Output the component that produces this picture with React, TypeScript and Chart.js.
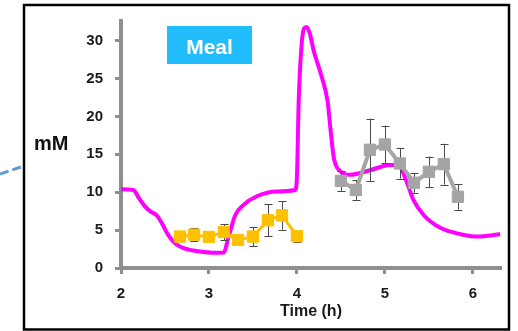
import React, { useEffect, useRef } from "react";
import { Chart, registerables } from "chart.js";

Chart.register(...registerables);

const xTicks = [2, 3, 4, 5, 6];
const yTicks = [0, 5, 10, 15, 20, 25, 30];

// model curve (magenta)
const modelTime = [
  2.0, 2.14, 2.2, 2.26, 2.33, 2.41, 2.47, 2.54, 2.62, 2.73, 2.88, 3.07, 3.17,
  3.22, 3.3, 3.39, 3.55, 3.77, 3.98, 4.0, 4.02, 4.05, 4.08, 4.11, 4.15, 4.19,
  4.28, 4.35, 4.38, 4.42, 4.49, 4.6, 4.83, 5.06, 5.15, 5.25, 5.32, 5.44, 5.63,
  5.86, 6.05, 6.31,
];
const modelValue = [
  10.4, 10.3, 9.3, 8.3, 7.5, 6.9, 5.8, 4.3, 3.2, 2.55, 2.2, 2.0, 2.05,
  4.0, 7.0, 8.3, 9.5, 10.1, 10.3, 12, 22, 29, 31.6, 31.8, 30.8, 28.7,
  25.3, 21.9, 18.5, 14.5, 12.8, 12.3, 12.9, 13.6, 13.6, 11.3, 9.1, 7.0, 5.3,
  4.46, 4.15, 4.45,
];

// orange series
const orangeTime = [2.67, 2.83, 3.0, 3.17, 3.33, 3.5, 3.67, 3.83, 4.0];
const orangeValue = [4.15, 4.4, 4.1, 4.75, 3.7, 4.15, 6.3, 6.95, 4.2];
const orangeErr = [0.4, 0.9, 0.4, 1.05, 0.4, 1.3, 2.1, 1.9, 0.8];

// gray series
const grayTime = [4.5, 4.67, 4.83, 5.0, 5.17, 5.33, 5.5, 5.67, 5.83];
const grayValue = [11.5, 10.3, 15.6, 16.3, 13.8, 11.25, 12.7, 13.7, 9.4];
const grayErr = [1.3, 1.3, 4.1, 2.5, 2.0, 1.3, 2.0, 2.7, 1.7];

const FONT = "'Liberation Sans', Arial, sans-serif";
const AXIS = "#8f8f8f";

export default function App() {
  const ref = useRef<HTMLCanvasElement>(null);

  useEffect(() => {
    const errorBars = {
      id: "errorBars",
      beforeDatasetDraw(chart: any, args: any) {
        const ds: any = chart.data.datasets[args.index];
        if (!ds.errors) return;
        const xs = chart.scales.x;
        const ys = chart.scales.y;
        const ctx = chart.ctx;
        ctx.save();
        ctx.strokeStyle = "#4a4a4a";
        ctx.lineWidth = 1;
        ds.data.forEach((p: any, i: number) => {
          const e = ds.errors[i];
          const px = Math.round(xs.getPixelForValue(p.x)) + 0.5;
          const y1 = ys.getPixelForValue(p.y + e);
          const y2 = ys.getPixelForValue(p.y - e);
          ctx.beginPath();
          ctx.moveTo(px, y1);
          ctx.lineTo(px, y2);
          ctx.moveTo(px - 4, Math.round(y1) + 0.5);
          ctx.lineTo(px + 4, Math.round(y1) + 0.5);
          ctx.moveTo(px - 4, Math.round(y2) + 0.5);
          ctx.lineTo(px + 4, Math.round(y2) + 0.5);
          ctx.stroke();
        });
        ctx.restore();
      },
    };

    const decor = {
      id: "decor",
      afterDraw(chart: any) {
        const ctx = chart.ctx;
        ctx.save();
        // frame
        ctx.strokeStyle = "#000";
        ctx.lineWidth = 2.5;
        ctx.strokeRect(24, 5, 485, 324.5);
        // dashed connector
        ctx.strokeStyle = "#5b9bd5";
        ctx.lineWidth = 3;
        ctx.setLineDash([9, 4]);
        ctx.beginPath();
        ctx.moveTo(0, 174);
        ctx.lineTo(22.5, 166.5);
        ctx.stroke();
        ctx.setLineDash([]);
        // mM label
        ctx.fillStyle = "#111";
        ctx.font = `bold 20px ${FONT}`;
        ctx.textAlign = "left";
        ctx.textBaseline = "alphabetic";
        ctx.fillText("mM", 34, 149.5);
        // Meal box
        ctx.fillStyle = "#22bdfd";
        ctx.fillRect(167, 26, 85, 38);
        ctx.fillStyle = "#fff";
        ctx.font = `bold 21px ${FONT}`;
        ctx.textAlign = "center";
        ctx.fillText("Meal", 209.5, 53.5);
        ctx.restore();
      },
    };

    const tickFont = { family: FONT, weight: "bold" as const, size: 15 };

    const chart = new Chart(ref.current!, {
      type: "line",
      data: {
        datasets: [
          {
            data: modelTime.map((t, i) => ({ x: t, y: modelValue[i] })),
            borderColor: "#ff00ff",
            borderWidth: 4,
            pointRadius: 0,
            cubicInterpolationMode: "monotone",
            fill: false,
            order: 2,
          },
          {
            data: orangeTime.map((t, i) => ({ x: t, y: orangeValue[i] })),
            errors: orangeErr,
            borderColor: "#ffc000",
            backgroundColor: "#ffc000",
            borderWidth: 3,
            pointStyle: "rect",
            pointRadius: 8,
            pointBorderWidth: 1,
            pointBorderColor: "#ffc000",
            pointBackgroundColor: "#ffc000",
            fill: false,
            order: 1,
          } as any,
          {
            data: grayTime.map((t, i) => ({ x: t, y: grayValue[i] })),
            errors: grayErr,
            borderColor: "#a5a5a5",
            backgroundColor: "#a5a5a5",
            borderWidth: 4,
            pointStyle: "rect",
            pointRadius: 8,
            pointBorderWidth: 1,
            pointBorderColor: "#a5a5a5",
            pointBackgroundColor: "#a5a5a5",
            fill: false,
            order: 1,
          } as any,
        ],
      },
      options: {
        responsive: false,
        animation: false,
        events: [],
        layout: { padding: { left: 0, top: 12, right: 17, bottom: 0 } },
        plugins: { legend: { display: false }, tooltip: { enabled: false } },
        scales: {
          x: {
            type: "linear",
            min: 2,
            max: 6.32,
            afterBuildTicks: (s: any) => {
              s.ticks = xTicks.map((v) => ({ value: v }));
            },
            afterFit: (s: any) => {
              s.height = 63;
            },
            grid: {
              drawOnChartArea: false,
              drawTicks: true,
              tickLength: 6,
              tickWidth: 3,
              tickColor: AXIS,
            },
            border: { display: true, color: AXIS, width: 4 },
            ticks: { font: tickFont, color: "#1a1a1a", padding: 11, maxRotation: 0 },
            title: {
              display: true,
              text: "Time (h)",
              color: "#1a1a1a",
              font: { family: FONT, weight: "bold", size: 16 },
              padding: { top: 0, bottom: 10 },
            },
          },
          y: {
            type: "linear",
            min: 0,
            max: 32.6,
            afterBuildTicks: (s: any) => {
              s.ticks = yTicks.map((v) => ({ value: v }));
            },
            afterFit: (s: any) => {
              s.width = 121;
            },
            grid: {
              drawOnChartArea: false,
              drawTicks: true,
              tickLength: 6,
              tickWidth: 3,
              tickColor: AXIS,
            },
            border: { display: true, color: AXIS, width: 4 },
            ticks: { font: tickFont, color: "#1a1a1a", padding: 12 },
          },
        },
      },
      plugins: [errorBars, decor],
    });
    return () => chart.destroy();
  }, []);

  return (
    <div
      style={{
        position: "absolute",
        left: 0,
        top: 0,
        width: 518,
        height: 331,
        background: "#fff",
      }}
    >
      <canvas
        ref={ref}
        width={518}
        height={331}
        style={{ width: 518, height: 331, display: "block" }}
      />
    </div>
  );
}
